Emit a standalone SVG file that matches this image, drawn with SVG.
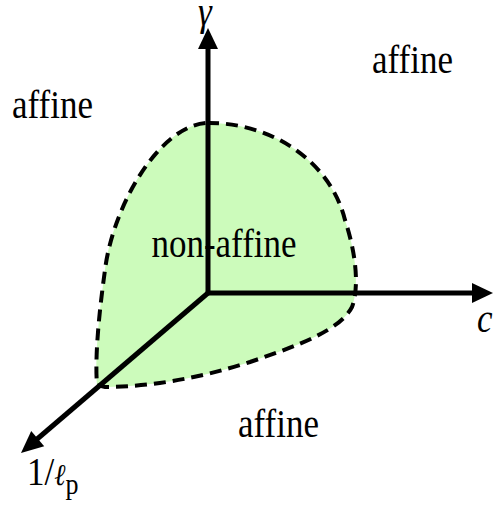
<svg xmlns="http://www.w3.org/2000/svg" width="496" height="506" viewBox="0 0 496 506">
<style>
.t{font-family:"Liberation Serif","Times New Roman",serif;font-size:35px;fill:#000}
.i{font-style:italic}
.ax{stroke:#000;stroke-width:5;fill:none}
.hd{fill:#000}
</style>
<rect width="496" height="506" fill="#fff"/>
<g id="region">
<path d="M207,123 C270,122 330,160 345,220 C355,250 360,285 352,307 C340,330 300,345 250,362 C200,378 150,387 105,387 L97,385 C95,360 98,320 105,270 C113,205 160,125 207,123 Z" fill="#ccfbbb" stroke="#000" stroke-width="4" stroke-dasharray="12,7"/>
</g>
<g id="labels">
<text class="t" transform="translate(372,73) scale(1,1.12)">affine</text>
<text class="t" transform="translate(12,118) scale(1,1.12)">affine</text>
<text class="t" transform="translate(238,437) scale(1,1.12)">affine</text>
<text class="t" transform="translate(224,257) scale(1,1.12)" text-anchor="middle">non-affine</text>
</g>
<g id="connectors">
<line class="ax" x1="208" y1="293" x2="208" y2="46"/>
<polygon class="hd" points="208,28 198,49 218,49"/>
<line class="ax" x1="208" y1="293" x2="475" y2="293"/>
<polygon class="hd" points="493,293 472,283 472,303"/>
<line class="ax" x1="208" y1="293" x2="36" y2="440"/>
<polygon class="hd" points="21,453 44.2,446.3 31.2,431.1"/>
</g>
<g id="axis-labels">
<text class="t i" transform="translate(205,25) scale(1,1.12)" text-anchor="middle" font-size="32">γ</text>
<text class="t i" transform="translate(477,332) scale(1,1.12)">c</text>
<text class="t" transform="translate(27,485) scale(1,1.12)" font-size="37">1/<tspan font-size="27" font-style="italic">ℓ</tspan><tspan font-size="26" dy="8">p</tspan></text>
</g>
</svg>
